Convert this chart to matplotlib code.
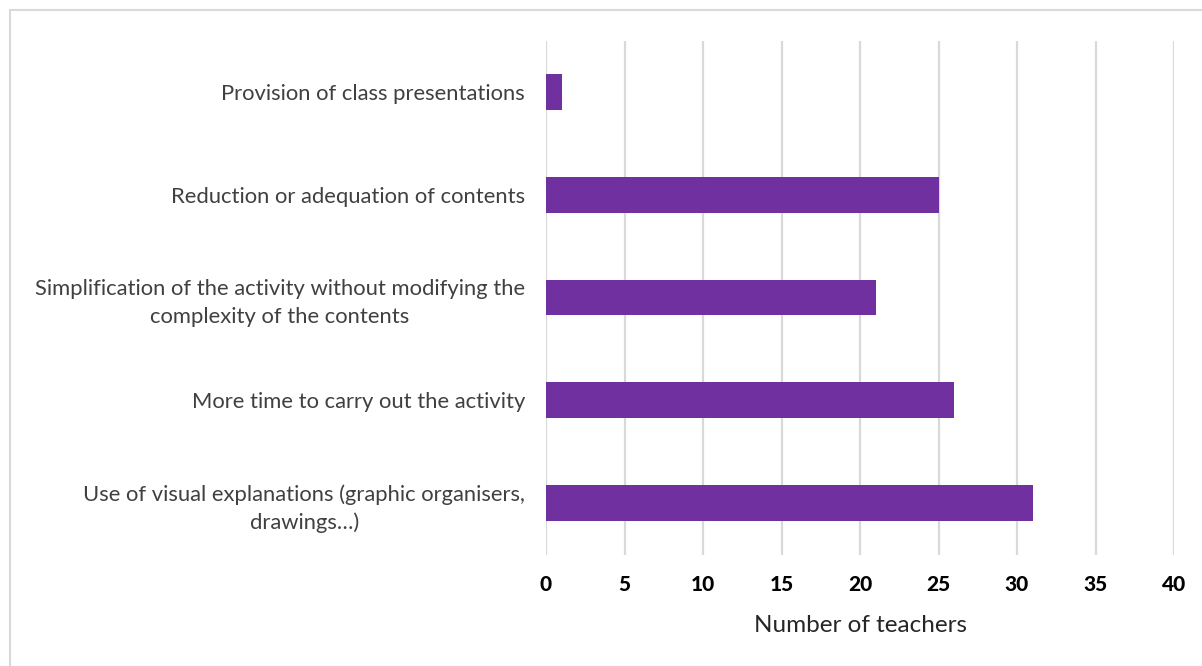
import matplotlib
matplotlib.use("Agg")
import matplotlib.pyplot as plt
from matplotlib.patches import Rectangle

categories = [
    "Use of visual explanations (graphic organisers,\ndrawings\u2026)",
    "More time to carry out the activity",
    "Simplification of the activity without modifying the\ncomplexity of the contents",
    "Reduction or adequation of contents",
    "Provision of class presentations",
]
values = [31, 26, 21, 25, 1]
xticks = [0, 5, 10, 15, 20, 25, 30, 35, 40]
xlabel = "Number of teachers"

plt.rcParams["font.family"] = ["Lato", "DejaVu Sans"]

W, H = 1202, 666
fig = plt.figure(figsize=(W / 100, H / 100), dpi=100)
ax = fig.add_axes([546 / W, 1 - 554.5 / H, (1174 - 546) / W, (554.5 - 40.5) / H])

ypos = list(range(len(categories)))
ax.barh(ypos, values, height=0.35, color="#7030A0", zorder=3)
ax.set_ylim(-0.5, len(categories) - 0.5)
ax.set_xlim(0, 40)
ax.set_xticks(xticks)
ax.set_xticklabels([str(t) for t in xticks], fontsize=15, fontweight="black", color="#000000")
ax.set_yticks(ypos)
ax.set_yticklabels(categories, fontsize=15.8, color="#404040", multialignment="center",
                   linespacing=1.45)
ax.tick_params(axis="both", length=0)
ax.tick_params(axis="x", pad=15)
ax.tick_params(axis="y", pad=15)
ax.grid(axis="x", color="#D9D9D9", linewidth=1.6, zorder=0)
for s in ax.spines.values():
    s.set_visible(False)
ax.set_xlabel(xlabel, fontsize=17.5, color="#262626", labelpad=15)

# chart area frame
fig.patches.append(Rectangle((10 / W, -0.1), 1.2, 1 - 10 / H + 0.1, transform=fig.transFigure,
                             fill=False, edgecolor="#D9D9D9", linewidth=1.5))

fig.savefig("out.png", dpi=100, facecolor="white")
